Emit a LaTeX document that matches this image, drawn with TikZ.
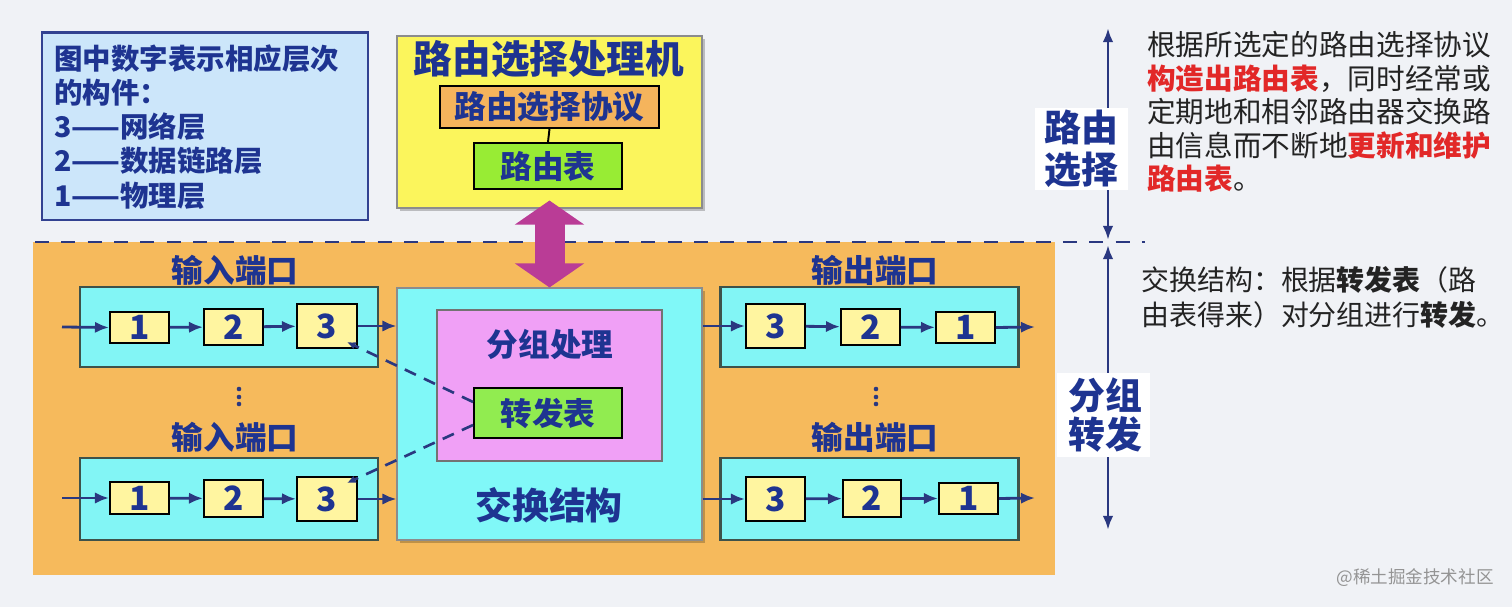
\documentclass[tikz,border=0pt]{standalone}
\usepackage{fontspec}
\newfontfamily\cjk{Noto Sans CJK SC}
\usetikzlibrary{arrows.meta,fit,calc,shadows}
\definecolor{bg}{RGB}{240,242,246}
\definecolor{tblue}{RGB}{30,52,145}
\definecolor{lblue}{RGB}{42,56,128}
\definecolor{legendf}{RGB}{204,230,250}
\definecolor{legendb}{RGB}{50,66,145}
\definecolor{yel}{RGB}{251,245,92}
\definecolor{orng}{RGB}{245,180,92}
\definecolor{rgreen}{RGB}{152,236,52}
\definecolor{fgreen}{RGB}{145,236,80}
\definecolor{orreg}{RGB}{246,186,92}
\definecolor{cyanp}{RGB}{130,245,245}
\definecolor{cyanf}{RGB}{128,248,248}
\definecolor{portb}{RGB}{62,82,74}
\definecolor{numf}{RGB}{255,245,160}
\definecolor{pinkf}{RGB}{240,160,246}
\definecolor{magarr}{RGB}{186,60,150}
\definecolor{tred}{RGB}{226,40,40}
\definecolor{tgray}{RGB}{35,35,35}
\begin{document}
\begin{tikzpicture}[x=0.02cm,y=-0.02cm,
  tb/.style={text=tblue, inner sep=0pt, font=\cjk\bfseries\fontsize{#1}{#1}\selectfont},
  softshadow/.style={drop shadow={shadow xshift=1.8pt,shadow yshift=-1.8pt,opacity=0.22,fill=black}},
  numbox/.style={inner sep=0pt, draw=black, line width=1.1pt, fill=numf, label={[tb=19]center:#1}},
  port/.style={inner sep=0pt, draw=portb, line width=1.7pt, fill=cyanp},
  flow/.style={draw=lblue, line width=1.6pt, -{Latex[length=8pt,width=6.5pt]}},
  vflow/.style={draw=lblue, line width=1.6pt, {Latex[length=8pt,width=6pt]}-{Latex[length=8pt,width=6pt]}},
  fdash/.style={draw=lblue, line width=1.5pt, dash pattern=on 7pt off 5pt, -{Latex[length=5pt,width=4.5pt]}},
  dotm/.style={fill=lblue, draw=none}]
% background
\path[use as bounding box, fill=bg] (0,0) rectangle (1512,607);

% legend
\node[fit={(42,33)(368,220)}, inner sep=0pt, draw=legendb, line width=1.7pt, fill=legendf] (legend) {};
\node[anchor=west, align=left, inner sep=0pt, text=tblue, font=\cjk\bfseries\fontsize{16.2}{19.4}\selectfont] (legendtxt) at (54,127)
  {图中数字表示相应层次\\的构件：\\3——网络层\\2——数据链路层\\1——物理层};

% forwarding region
\node[fit={(33,242)(1055,575)}, inner sep=0pt, fill=orreg] (fwdregion) {};
\coordinate (dl) at (35,242);
\coordinate (dr) at (1145,242);
\draw[lblue, line width=1.6pt, dash pattern=on 8pt off 7pt] (dl) -- (dr);

% routing processor
\node[fit={(397,36)(702,208)}, inner sep=0pt, draw=black!45, line width=0.6pt, fill=yel, softshadow] (proc) {};
\node[tb=22] (proctitle) at (549,59) {路由选择处理机};
\node[fit={(440,86)(659,128)}, inner sep=0pt, draw=black, line width=1.1pt, fill=orng, label={[tb=18]center:路由选择协议}] (proto) {};
\node[fit={(474,143)(622,189)}, inner sep=0pt, draw=black, line width=1.1pt, fill=rgreen, label={[tb=18]center:路由表}] (rtable) {};
\draw[line width=1.1pt] (proto.south) -- (rtable.north);

% switch fabric
\node[fit={(397,288)(702,540)}, inner sep=0pt, draw=black!45, line width=0.6pt, fill=cyanf, softshadow] (fabric) {};
\node[tb=21] (fabriclbl) at (549,505) {交换结构};
\node[fit={(437,310)(662,461)}, inner sep=0pt, draw=black!55, line width=0.7pt, fill=pinkf] (pkt) {};
\node[tb=18] (pktlbl) at (550,345) {分组处理};
\node[fit={(474,388)(622,438)}, inner sep=0pt, draw=black, line width=1.1pt, fill=fgreen, label={[tb=18]center:转发表}] (fwd) {};

% double arrow
\draw[magarr, line width=0.6cm, {Triangle[width=1.36cm,length=0.48cm]}-{Triangle[width=1.36cm,length=0.48cm]}]
  ($(proc.south)+(0,-8)$) -- (fabric.north);

% input ports
\node[tb=18] (inl1) at (235,270) {输入端口};
\node[port, fit={(80,287)(378,367)}] (inport1) {};
\node[numbox=1, fit={(110,312)(169,343)}] (i1a) {};
\node[numbox=2, fit={(204,309)(263,345)}] (i1b) {};
\node[numbox=3, fit={(297,304)(357,348)}] (i1c) {};

\node[tb=18] (inl2) at (235,437) {输入端口};
\node[port, fit={(80,458)(378,540)}] (inport2) {};
\node[numbox=1, fit={(110,482)(169,514)}] (i2a) {};
\node[numbox=2, fit={(204,480)(263,517)}] (i2b) {};
\node[numbox=3, fit={(297,477)(357,521)}] (i2c) {};

% output ports
\node[tb=18] (outl1) at (875,270) {输出端口};
\node[port, fit={(720,287)(1018,367)}] (outport1) {};
\node[numbox=3, fit={(746,304)(805,348)}] (o1a) {};
\node[numbox=2, fit={(841,309)(900,345)}] (o1b) {};
\node[numbox=1, fit={(936,312)(995,343)}] (o1c) {};

\node[tb=18] (outl2) at (875,437) {输出端口};
\node[port, fit={(720,458)(1018,540)}] (outport2) {};
\node[numbox=3, fit={(746,477)(805,521)}] (o2a) {};
\node[numbox=2, fit={(843,480)(901,517)}] (o2b) {};
\node[numbox=1, fit={(939,483)(998,514)}] (o2c) {};

% vertical ellipses
\foreach \yy in {389,397,404} {
  \fill[dotm] (239,\yy) circle (2.3);
  \fill[dotm] (876,\yy) circle (2.3);
}

% flow arrows
\coordinate (in1src) at (62,327);
\coordinate (in2src) at (62,498);
\coordinate (out1dst) at (1035,327);
\coordinate (out2dst) at (1035,498);
\draw[flow] (in1src) -- (i1a.west);
\draw[flow] (i1a) -- (i1b);
\draw[flow] (i1b) -- (i1c);
\draw[flow] (i1c.east) -- (i1c.east -| fabric.west);
\draw[flow] (in2src) -- (i2a.west);
\draw[flow] (i2a) -- (i2b);
\draw[flow] (i2b) -- (i2c);
\draw[flow] (i2c.east) -- (i2c.east -| fabric.west);
\draw[flow] (fabric.east |- o1a.west) -- (o1a.west);
\draw[flow] (o1a) -- (o1b);
\draw[flow] (o1b) -- (o1c);
\draw[flow] (o1c.east) -- (out1dst);
\draw[flow] (fabric.east |- o2a.west) -- (o2a.west);
\draw[flow] (o2a) -- (o2b);
\draw[flow] (o2b) -- (o2c);
\draw[flow] (o2c.east) -- (out2dst);

% dashed lookups
\draw[fdash] ($(fwd.west)+(0,-11)$) -- ($(i1c.south east)+(-11,-7)$);
\draw[fdash] ($(fwd.west)+(0,12)$) -- ($(i2c.north east)+(-11,7)$);

% right-side scale arrows
\coordinate (rsT) at (1108,28);
\coordinate (rsB) at (1108,240);
\draw[vflow] (rsT) -- (rsB);
\node[fit={(1035,108)(1128,190)}, inner sep=0pt, fill=white, label={[align=center, inner sep=0pt, text=tblue, font=\cjk\bfseries\fontsize{21}{23.8}\selectfont]center:路由\\选择}] (rslabel) {};
\coordinate (pfT) at (1108,245);
\coordinate (pfB) at (1108,530);
\draw[vflow] (pfT) -- (pfB);
\node[fit={(1057,373)(1150,457)}, inner sep=0pt, fill=white, label={[align=center, inner sep=0pt, text=tblue, font=\cjk\bfseries\fontsize{21}{22.7}\selectfont, xshift=0.03cm]center:分组\\转发}] (pflabel) {};

% explanations
\node[anchor=west, align=left, inner sep=0pt, text=tgray, font=\cjk\fontsize{16.3}{19.1}\selectfont] (rsnote) at (1147,112)
  {根据所选定的路由选择协议\\
   \textcolor{tred}{\bfseries 构造出路由表}，同时经常或\\
   定期地和相邻路由器交换路\\
   由信息而不断地\textcolor{tred}{\bfseries 更新和维护}\\
   \textcolor{tred}{\bfseries 路由表}。};
\node[anchor=west, align=left, inner sep=0pt, text=tgray, font=\cjk\fontsize{15.9}{19.8}\selectfont] (pfnote) at (1141,297)
  {交换结构：根据{\bfseries 转发表}（路\\由表得来）对分组进行{\bfseries 转发}。};

% watermark
\node[anchor=east, inner sep=0pt, text=black!42, font=\cjk\fontsize{10}{10}\selectfont] (wm) at (1494,578) {@稀土掘金技术社区};
\end{tikzpicture}
\end{document}
